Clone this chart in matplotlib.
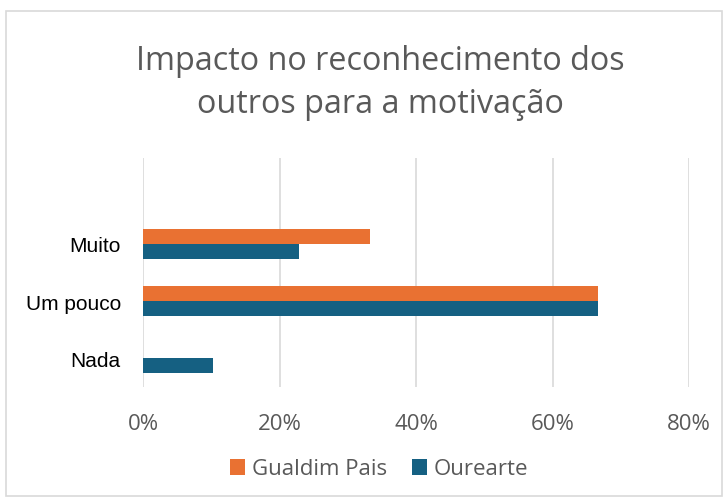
import numpy as np
import matplotlib
matplotlib.use('Agg')
from matplotlib import pyplot as plt
from matplotlib.patches import Rectangle

# data (share of answers)
categories = ['Nada', 'Um pouco', 'Muito', '']
gualdim = [0.0, 66.7, 33.3, 0.0]
ourearte = [10.3, 66.7, 22.9, 0.0]
series_names = ['Gualdim Pais', 'Ourearte']
xticks = [0, 20, 40, 60, 80]

ORANGE = '#E97132'
BLUE = '#156082'
GREY = '#595959'

fig = plt.figure(figsize=(7.28, 5.02), dpi=100)
ax = fig.add_axes([143/728, 1 - 388/502, (689-143)/728, (388-159)/502])

y = np.arange(len(categories))
h = 0.262
ax.barh(y + h/2, gualdim, height=h, color=ORANGE, label=series_names[0], zorder=3)
ax.barh(y - h/2, ourearte, height=h, color=BLUE, label=series_names[1], zorder=3)

ax.set_xlim(0, 80)
ax.set_ylim(-0.5, len(categories) - 0.5)
ax.set_xticks(xticks)
ax.set_xticklabels(['%d%%' % t for t in xticks], fontfamily='Open Sans', fontsize=16, color=GREY)
ax.set_yticks(y[:3])
ax.set_yticklabels(categories[:3], fontfamily='Liberation Sans', fontsize=15, color='black')
ax.tick_params(axis='x', length=0, pad=19)
ax.tick_params(axis='y', length=0, pad=16)
ax.grid(axis='x', color='#D9D9D9', linewidth=1.2, zorder=0)
for s in ax.spines.values():
    s.set_visible(False)

fig.text(380/728, 1 - 83/502, 'Impacto no reconhecimento dos\noutros para a motivação',
         ha='center', va='center', fontfamily='Open Sans', fontsize=23.3, color=GREY,
         linespacing=1.38)

leg = fig.legend(loc='center', bbox_to_anchor=(379/728, 1 - 470/502), ncol=2, frameon=False,
                 prop={'family': 'Open Sans', 'size': 16}, handlelength=0.7, handleheight=0.7,
                 handletextpad=0.3, columnspacing=1.1)
for t in leg.get_texts():
    t.set_color(GREY)

fig.patches.append(Rectangle((6/728, 5/502), 716/728, 485/502, transform=fig.transFigure,
                             fill=False, edgecolor='#D9D9D9', linewidth=1.2))

fig.savefig('out.png', dpi=100)
